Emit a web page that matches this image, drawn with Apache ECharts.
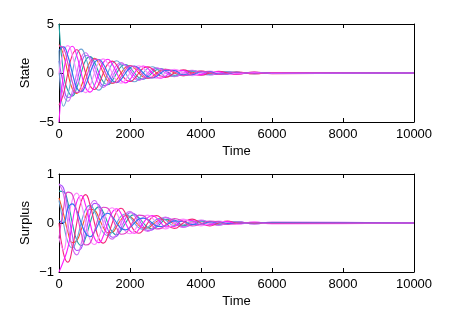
<!DOCTYPE html>
<html><head><meta charset="utf-8">
<script src="https://cdn.jsdelivr.net/npm/echarts@6/dist/echarts.min.js"></script>
<style>html,body{margin:0;padding:0;background:#fff}#c{width:457px;height:318px}</style>
</head><body><div id="c"></div>
<script>
// Time samples
var timeValues = [0,125,250,375,500,625,750,875,1000,1125,1250,1375,1500,1625,1750,1875,2000,2125,2250,2375,2500,2625,2750,2875,3000,3250,3500,3750,4000,4250,4500,4750,5000,5500,6000,10000];
var xTicks = [0,2000,4000,6000,8000,10000];
var stateTicks = [-5,0,5];
var surplusTicks = [-1,0,1];
var seriesNames = ['orange','teal','purple','violet','lightBlue','crimson','magenta','lightMagenta','blue','pink'];

// State values
var stateOrange = [2.9,1.89,0,-1.6,-2.08,-1.35,0,1.14,1.49,0.97,0,-0.82,-1.07,-0.69,0,0.59,0.77,0.5,0,-0.42,-0.55,-0.36,0,0.3,0.39,0,-0.28,0,0.2,0,-0.15,0,0.1,-0.08,0.05,0];
var stateTeal = [5,0,-1.79,-2.34,-1.52,0,1.29,1.67,1.09,0,-0.92,-1.2,-0.78,0,0.66,0.86,0.56,0,-0.47,-0.62,-0.4,0,0.34,0.44,0.29,-0.24,-0.21,0.17,0.15,-0.13,-0.11,0.09,0.08,-0.06,0.04,0];
var statePurple = [1.23,-1.13,-2.5,-2.3,-0.88,0.81,1.79,1.65,0.63,-0.58,-1.29,-1.18,-0.45,0.41,0.92,0.85,0.32,-0.3,-0.66,-0.61,-0.23,0.21,0.47,0.43,0.17,-0.34,-0.12,0.24,0.08,-0.17,-0.06,0.12,0.04,-0.03,0.02,0];
var stateViolet = [0,-2.21,-2.88,-1.87,0,1.58,2.06,1.34,0,-1.13,-1.48,-0.96,0,0.81,1.06,0.69,0,-0.58,-0.76,-0.49,0,0.42,0.54,0.35,0,-0.39,0,0.28,0,-0.2,0,0.14,0,0,0,0];
var stateLightBlue = [2.3,-3.4,-2.21,0,1.88,2.44,1.59,0,-1.34,-1.75,-1.14,0,0.96,1.25,0.81,0,-0.69,-0.9,-0.58,0,0.49,0.64,0.42,0,-0.35,-0.3,0.25,0.21,-0.18,-0.15,0.13,0.11,-0.09,0.07,-0.05,0];
var stateCrimson = [-3.3,-2.15,0,1.82,2.37,1.54,0,-1.3,-1.69,-1.1,0,0.93,1.21,0.79,0,-0.67,-0.87,-0.57,0,0.48,0.62,0.41,0,-0.34,-0.45,0,0.32,0,-0.23,0,0.17,0,-0.12,0.09,-0.06,0];
var stateMagenta = [-5,0,2.09,2.73,1.77,0,-1.5,-1.95,-1.27,0,1.08,1.4,0.91,0,-0.77,-1.01,-0.65,0,0.55,0.72,0.47,0,-0.4,-0.52,-0.33,0.28,0.24,-0.2,-0.17,0.15,0.12,-0.1,-0.09,0.06,-0.04,0];
var stateLightMagenta = [0,2.15,2.79,1.82,0,-1.54,-2,-1.3,0,1.1,1.44,0.93,0,-0.79,-1.03,-0.67,0,0.57,0.74,0.48,0,-0.41,-0.53,-0.34,0,0.38,0,-0.27,0,0.2,0,-0.14,0,0,0,0];
var stateBlue = [2.3,2.67,1.73,0,-1.47,-1.91,-1.24,0,1.05,1.37,0.89,0,-0.75,-0.98,-0.64,0,0.54,0.71,0.46,0,-0.39,-0.51,-0.33,0,0.28,0.24,-0.2,-0.17,0.14,0.12,-0.1,-0.09,0.07,-0.05,0.04,0];
var statePink = [2.77,2.55,0.97,-0.9,-1.99,-1.83,-0.7,0.64,1.42,1.31,0.5,-0.46,-1.02,-0.94,-0.36,0.33,0.73,0.67,0.26,-0.24,-0.52,-0.48,-0.18,0.17,0.37,0.13,-0.27,-0.09,0.19,0.07,-0.14,-0.05,0.1,-0.07,0.05,0];

// Surplus values
var surplusOrange = [0.51,0.19,-0.18,-0.4,-0.36,-0.14,0.13,0.28,0.26,0.1,-0.09,-0.2,-0.19,-0.07,0.07,0.15,0.13,0.05,-0.05,-0.1,-0.1,-0.04,0.03,0.07,0.07,-0.02,-0.05,0.02,0.04,-0.01,-0.03,0.01,0.02,-0.01,0.01,0];
var surplusTeal = [0.65,0.64,0.42,0,-0.35,-0.46,-0.3,0,0.25,0.33,0.22,0,-0.18,-0.24,-0.15,0,0.13,0.17,0.11,0,-0.09,-0.12,-0.08,0,0.07,0.06,-0.05,-0.04,0.03,0.03,-0.02,-0.02,0.02,-0.01,0.01,0];
var surplusPurple = [0.79,0.72,0.28,-0.25,-0.56,-0.52,-0.2,0.18,0.4,0.37,0.14,-0.13,-0.29,-0.27,-0.1,0.09,0.21,0.19,0.07,-0.07,-0.15,-0.14,-0.05,0.05,0.11,0.04,-0.08,-0.03,0.05,0.02,-0.04,-0.01,0.03,-0.02,0.01,0];
var surplusViolet = [0.8,0.59,0,-0.5,-0.65,-0.42,0,0.35,0.46,0.3,0,-0.25,-0.33,-0.21,0,0.18,0.24,0.15,0,-0.13,-0.17,-0.11,0,0.09,0.12,0,-0.09,0,0.06,0,-0.05,0,0.03,-0.02,0.02,0];
var surplusLightBlue = [0.46,0,-0.39,-0.51,-0.33,0,0.28,0.36,0.24,0,-0.2,-0.26,-0.17,0,0.14,0.19,0.12,0,-0.1,-0.13,-0.09,0,0.07,0.1,0.06,-0.05,-0.04,0.04,0.03,-0.03,-0.02,0.02,0.02,-0.01,0.01,0];
var surplusCrimson = [0,-0.62,-0.8,-0.52,0,0.44,0.58,0.37,0,-0.32,-0.41,-0.27,0,0.23,0.3,0.19,0,-0.16,-0.21,-0.14,0,0.12,0.15,0.1,0,-0.11,0,0.08,0,-0.06,0,0.04,0,0,0,0];
var surplusMagenta = [-1,-0.78,-0.51,0,0.43,0.56,0.36,0,-0.31,-0.4,-0.26,0,0.22,0.29,0.19,0,-0.16,-0.21,-0.13,0,0.11,0.15,0.1,0,-0.08,-0.07,0.06,0.05,-0.04,-0.04,0.03,0.03,-0.02,0.02,-0.01,0];
var surplusLightMagenta = [-0.3,-0.55,0,0.47,0.61,0.4,0,-0.34,-0.44,-0.28,0,0.24,0.31,0.2,0,-0.17,-0.22,-0.15,0,0.12,0.16,0.1,0,-0.09,-0.12,0,0.08,0,-0.06,0,0.04,0,-0.03,0.02,-0.02,0];
var surplusBlue = [0.05,0,0.3,0.39,0.25,0,-0.21,-0.28,-0.18,0,0.15,0.2,0.13,0,-0.11,-0.14,-0.09,0,0.08,0.1,0.07,0,-0.06,-0.07,-0.05,0.04,0.03,-0.03,-0.02,0.02,0.02,-0.01,-0.01,0.01,0,0];
var surplusPink = [-0.31,0.28,0.63,0.58,0.22,-0.2,-0.45,-0.41,-0.16,0.14,0.32,0.3,0.11,-0.1,-0.23,-0.21,-0.08,0.07,0.16,0.15,0.06,-0.05,-0.12,-0.11,-0.04,0.09,0.03,-0.06,-0.02,0.04,0.02,-0.03,-0.01,0.01,-0.01,0];

var stateData = [stateOrange,stateTeal,statePurple,stateViolet,stateLightBlue,stateCrimson,stateMagenta,stateLightMagenta,stateBlue,statePink];
var surplusData = [surplusOrange,surplusTeal,surplusPurple,surplusViolet,surplusLightBlue,surplusCrimson,surplusMagenta,surplusLightMagenta,surplusBlue,surplusPink];
var colors = ['#f0582a','#1fa5a5','#a64dff','#d46cf5','#6ba3d6','#f5237a','#ff1aff','#ff88ff','#2f6ff2','#e040c8'];

function pairs(vals){ return timeValues.map(function(t,i){ return [t, vals[i]]; }); }
var FONT = 'Liberation Sans, Arial, Helvetica, sans-serif';
var lineStyle = {color:'#000', width:1};
function fmt(v){ return String(v).replace('-', '\u2212'); }

function xAx(gi, top, showName){
  return {
    type:'value', gridIndex:gi, position: top ? 'top' : 'bottom',
    min:xTicks[0], max:xTicks[xTicks.length-1], interval:xTicks[1]-xTicks[0],
    name: (!top && showName) ? 'Time' : '', nameLocation:'middle', nameGap:23, nameMoveOverlap:false,
    nameTextStyle:{fontFamily:FONT, fontSize:13, color:'#000'},
    axisLine:{show:true, onZero:false, lineStyle:lineStyle},
    axisTick:{show:true, inside:true, length:4, lineStyle:lineStyle},
    axisLabel:{show:!top, margin:6, fontFamily:FONT, fontSize:13, color:'#000', formatter:fmt},
    splitLine:{show:false}
  };
}
function yAx(gi, ticks, right, name){
  return {
    type:'value', gridIndex:gi, position: right ? 'right' : 'left',
    min:ticks[0], max:ticks[ticks.length-1], interval:ticks[1]-ticks[0],
    name: right ? '' : name, nameLocation:'middle', nameGap:27, nameRotate:90, nameMoveOverlap:false,
    nameTextStyle:{fontFamily:FONT, fontSize:13, color:'#000'},
    axisLine:{show:true, onZero:false, lineStyle:lineStyle},
    axisTick:{show:true, inside:true, length:4, lineStyle:lineStyle},
    axisLabel:{show:!right, margin:5, fontFamily:FONT, fontSize:13, color:'#000', formatter:fmt},
    splitLine:{show:false}
  };
}

var series = [];
stateData.forEach(function(d,i){
  series.push({type:'line', xAxisIndex:0, yAxisIndex:0, data:pairs(d), smooth:0.5, showSymbol:false,
    lineStyle:{color:colors[i], width:1.1}, itemStyle:{color:colors[i]}, silent:true});
});
surplusData.forEach(function(d,i){
  series.push({type:'line', xAxisIndex:2, yAxisIndex:2, data:pairs(d), smooth:0.5, showSymbol:false,
    lineStyle:{color:colors[i], width:1.1}, itemStyle:{color:colors[i]}, silent:true});
});

var chart = echarts.init(document.getElementById('c'), null, {renderer:'canvas'});
chart.setOption({
  animation:false,
  backgroundColor:'#fff',
  grid:[
    {left:59, top:24, width:355, height:98},
    {left:59, top:174, width:355, height:98}
  ],
  xAxis:[xAx(0,false,true), xAx(0,true,false), xAx(1,false,true), xAx(1,true,false)],
  yAxis:[yAx(0,stateTicks,false,'State'), yAx(0,stateTicks,true,''), yAx(1,surplusTicks,false,'Surplus'), yAx(1,surplusTicks,true,'')],
  series:series
});
</script></body></html>
